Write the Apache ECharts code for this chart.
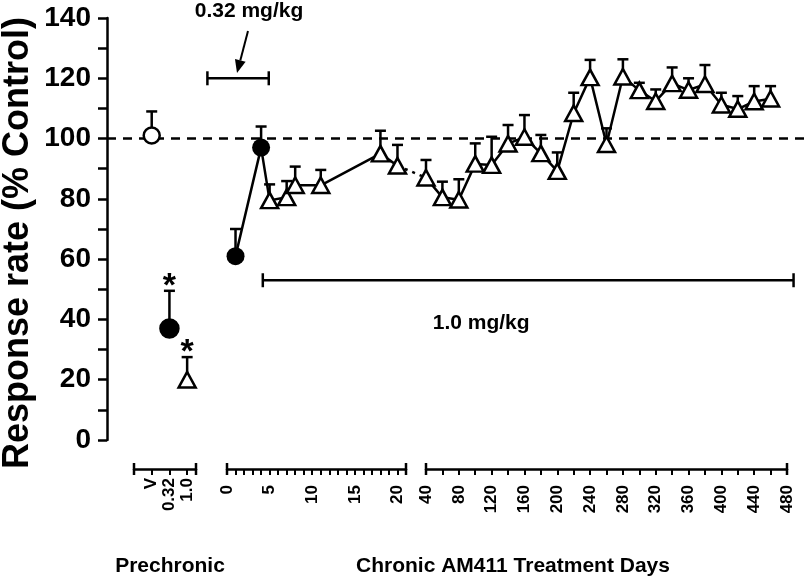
<!DOCTYPE html>
<html><head><meta charset="utf-8">
<script src="https://cdn.jsdelivr.net/npm/echarts@6/dist/echarts.min.js"></script>
<style>html,body{margin:0;padding:0;background:#fff}#c{width:809px;height:578px}</style>
</head><body><div id="c"></div>
<script>
// ---------- data ----------
const yTickValues = [0, 20, 40, 60, 80, 100, 120, 140];
const controlLevel = 100;

// Prechronic (acute) tests
const preLabels = ['V', '0.32', '1.0'];
const prePos = [1, 2, 3];
const preMean = [101, 37, 20];
const preErr = [8, 12.5, 7.5];
const preStar = [false, true, true];

// Chronic days 0-21: 0.32 mg/kg (filled circles)
const lowDays = [1, 4];
const lowMean = [61, 97];
const lowErr = [9, 7];

// Chronic days 0-21: 1.0 mg/kg (triangles)
const earlyDays = [5, 7, 8, 11, 18, 20];
const earlyMean = [79.5, 80.5, 84.5, 84.5, 95, 91];
const earlyErr = [5.3, 5.4, 6.2, 5.1, 7.6, 6.9];

// Chronic days 40-480: 1.0 mg/kg (triangles)
const lateDays = [40, 60, 80, 100, 120, 140, 160, 180, 200, 220, 240, 260, 280, 300, 320, 340, 360, 380, 400, 420, 440, 460];
const lateMean = [87, 80.5, 79.7, 91.6, 91.2, 98.3, 100.5, 95.1, 89.2, 108.4, 120.3, 98.1, 120.5, 116, 112.4, 118.3, 116.1, 118, 111.2, 109.8, 112.3, 113.2];
const lateErr = [5.9, 5.2, 6.8, 6.8, 9.4, 6.2, 7.3, 6.1, 6.2, 6.8, 5.8, 5.3, 5.8, 2.5, 3.9, 5.3, 3.9, 6.4, 4, 4.3, 5.1, 4.2];

// Tick labels
const earlyTickLabels = [0, 5, 10, 15, 20];
const lateTickLabels = [40, 80, 120, 160, 200, 240, 280, 320, 360, 400, 440, 480];

// Dose annotations (in axis units)
const lowDose = { text: '0.32 mg/kg', from: -2.3, to: 4.9, level: 120 };
const highDose = { text: '1.0 mg/kg', fromDay: 4.2, toDay: 488, level: 53 };

// ---------- chart ----------
const chart = echarts.init(document.getElementById('c'), null, { renderer: 'canvas' });
const FONT = '"Liberation Sans", Arial, Helvetica, sans-serif';
const K = '#000';
const LW = 2.5;

const pts = (xs, ms) => xs.map((x, i) => [x, ms[i]]);
const errData = (xs, ms, es, st) => xs.map((x, i) => [x, ms[i], es[i], st && st[i] ? 1 : 0]);

function errRender(params, api) {
  const x = api.value(0), m = api.value(1), e = api.value(2);
  const p0 = api.coord([x, m]), p1 = api.coord([x, m + e]);
  const ch = [
    { type: 'line', shape: { x1: p0[0], y1: p0[1], x2: p1[0], y2: p1[1] }, style: { stroke: K, lineWidth: LW } },
    { type: 'line', shape: { x1: p1[0] - 5.5, y1: p1[1], x2: p1[0] + 5.5, y2: p1[1] }, style: { stroke: K, lineWidth: LW } }
  ];
  if (api.value(3)) {
    ch.push({ type: 'text', x: p1[0], y: p1[1] + 13, style: { text: '*', font: 'bold 34px ' + FONT, fill: K, align: 'center', verticalAlign: 'bottom' } });
  }
  return { type: 'group', children: ch };
}

function xAxisFor(grid, min, max, interval, fmt, margin) {
  return {
    gridIndex: grid, type: 'value', min, max, interval, position: 'bottom', offset: 29,
    axisLine: { show: true, onZero: false, lineStyle: { color: K, width: LW }, symbol: ['rect', 'rect'], symbolSize: [12, LW] },
    axisTick: { show: true, inside: false, length: 6, lineStyle: { color: K, width: 2 } },
    axisLabel: { show: true, rotate: 90, margin, color: K, fontSize: 17, fontWeight: 'bold', fontFamily: FONT, formatter: fmt },
    splitLine: { show: false }
  };
}
const hiddenY = g => ({ gridIndex: g, type: 'value', min: 0, max: 140, interval: 20, show: false });

const triStyle = { color: '#fff', borderColor: K, borderWidth: LW };
const TRI = [17, 15.5];

const preStyle = [
  { symbol: 'circle', size: 16, fill: '#fff' },
  { symbol: 'circle', size: 18, fill: K },
  { symbol: 'triangle', size: TRI, fill: '#fff' }
];

const series = [
  // control reference line
  { type: 'line', xAxisIndex: 0, yAxisIndex: 0, data: [[0, controlLevel], [1, controlLevel]], showSymbol: false, silent: true,
    lineStyle: { color: K, width: LW, type: [9, 7] }, z: 1 },
  // prechronic
  { type: 'custom', xAxisIndex: 1, yAxisIndex: 1, renderItem: errRender, data: errData(prePos, preMean, preErr, preStar), z: 3, clip: false },
  ...preLabels.map((lab, i) => ({
    type: 'scatter', name: lab, xAxisIndex: 1, yAxisIndex: 1, symbol: preStyle[i].symbol, symbolSize: preStyle[i].size,
    itemStyle: { color: preStyle[i].fill, borderColor: K, borderWidth: LW, opacity: 1 }, data: [[prePos[i], preMean[i]]], z: 4
  })),
  // chronic 0-21
  { type: 'line', xAxisIndex: 2, yAxisIndex: 2, data: pts(lowDays, lowMean).concat(pts(earlyDays, earlyMean)), showSymbol: false,
    lineStyle: { color: K, width: LW }, z: 2, clip: false },
  { type: 'custom', xAxisIndex: 2, yAxisIndex: 2, renderItem: errRender,
    data: errData(lowDays, lowMean, lowErr).concat(errData(earlyDays, earlyMean, earlyErr)), z: 3, clip: false },
  { type: 'scatter', xAxisIndex: 2, yAxisIndex: 2, symbol: 'circle', symbolSize: 18, itemStyle: { color: K, opacity: 1 }, data: pts(lowDays, lowMean), z: 4, clip: false },
  { type: 'scatter', xAxisIndex: 2, yAxisIndex: 2, symbol: 'triangle', symbolSize: TRI, itemStyle: Object.assign({ opacity: 1 }, triStyle), data: pts(earlyDays, earlyMean), z: 4, clip: false },
  // chronic 40-480
  { type: 'line', xAxisIndex: 3, yAxisIndex: 3, data: pts(lateDays, lateMean), showSymbol: false, lineStyle: { color: K, width: LW }, z: 2, clip: false },
  { type: 'custom', xAxisIndex: 3, yAxisIndex: 3, renderItem: errRender, data: errData(lateDays, lateMean, lateErr), z: 3, clip: false },
  { type: 'scatter', xAxisIndex: 3, yAxisIndex: 3, symbol: 'triangle', symbolSize: TRI, itemStyle: Object.assign({ opacity: 1 }, triStyle), data: pts(lateDays, lateMean), z: 4, clip: false }
];

chart.setOption({
  animation: false,
  backgroundColor: '#fff',
  grid: [
    { left: 107, top: 18, width: 698, height: 422, outerBoundsMode: 'none' },
    { left: 134, top: 18, width: 62, height: 422, outerBoundsMode: 'none' },
    { left: 227, top: 18, width: 179, height: 422, outerBoundsMode: 'none' },
    { left: 426, top: 18, width: 361, height: 422, outerBoundsMode: 'none' }
  ],
  xAxis: [
    { gridIndex: 0, type: 'value', min: 0, max: 1, show: false },
    xAxisFor(1, 0, 3.5, 1, v => { const i = prePos.indexOf(v); return i >= 0 ? preLabels[i] : ''; }, 9),
    xAxisFor(2, 0, 21, 1, v => earlyTickLabels.includes(v) ? String(v) : '', 16),
    xAxisFor(3, 40, 480, 20, v => lateTickLabels.includes(v) ? String(v) : '', 16)
  ],
  yAxis: [
    {
      gridIndex: 0, type: 'value', min: yTickValues[0], max: yTickValues[yTickValues.length - 1], interval: 20,
      axisLine: { show: true, onZero: false, lineStyle: { color: K, width: LW } },
      axisTick: { show: true, length: 9, lineStyle: { color: K, width: LW } },
      minorTick: { show: true, splitNumber: 2, length: 9, lineStyle: { color: K, width: LW } },
      axisLabel: { color: K, fontSize: 28, fontWeight: 'bold', fontFamily: FONT, margin: 16 },
      splitLine: { show: false }, minorSplitLine: { show: false }
    },
    hiddenY(1), hiddenY(2), hiddenY(3)
  ],
  series
});

// ---------- annotations ----------
const px = (g, p) => chart.convertToPixel({ gridIndex: g }, p);
function bracket(a, b) {
  return [
    { type: 'line', shape: { x1: a[0], y1: a[1], x2: b[0], y2: b[1] }, style: { stroke: K, lineWidth: LW } },
    { type: 'line', shape: { x1: a[0], y1: a[1] - 7, x2: a[0], y2: a[1] + 7 }, style: { stroke: K, lineWidth: LW } },
    { type: 'line', shape: { x1: b[0], y1: b[1] - 7, x2: b[0], y2: b[1] + 7 }, style: { stroke: K, lineWidth: LW } }
  ];
}
const la = px(2, [lowDose.from, lowDose.level]), lb = px(2, [lowDose.to, lowDose.level]);
const ha = px(2, [highDose.fromDay, highDose.level]), hb = px(3, [highDose.toDay, highDose.level]);
const c1 = px(2, [earlyDays[earlyDays.length - 1], earlyMean[earlyMean.length - 1]]);
const c2 = px(3, [lateDays[0], lateMean[0]]);

// arrow
const aStart = [248, 31], aTip = [237, 73];
const dx = aTip[0] - aStart[0], dy = aTip[1] - aStart[1], L = Math.hypot(dx, dy);
const ux = dx / L, uy = dy / L, nx = -uy, ny = ux;
const hl = 13, hw = 5.5;
const base = [aTip[0] - hl * ux, aTip[1] - hl * uy];

const txt = (text, x, y, size, rot) => ({
  type: 'text', x, y, rotation: rot || 0,
  style: { text, font: 'bold ' + size + 'px ' + FONT, fill: K, align: 'center', verticalAlign: 'middle' }
});

chart.setOption({
  graphic: [
    ...bracket(la, lb),
    ...bracket(ha, hb),
    { type: 'line', shape: { x1: c1[0], y1: c1[1], x2: c2[0], y2: c2[1] }, style: { stroke: K, lineWidth: LW, lineDash: [3, 5] } },
    { type: 'line', shape: { x1: aStart[0], y1: aStart[1], x2: base[0], y2: base[1] }, style: { stroke: K, lineWidth: 2 } },
    { type: 'polygon', shape: { points: [aTip, [base[0] + hw * nx, base[1] + hw * ny], [base[0] - hw * nx, base[1] - hw * ny]] }, style: { fill: K } },
    txt(lowDose.text, 249, 11, 21),
    txt(highDose.text, (ha[0] + hb[0]) / 2 - 47, 323, 21),
    txt('Response rate (% Control)', 18, 243, 36, Math.PI / 2),
    txt('Prechronic', 170, 566, 21),
    txt('Chronic AM411 Treatment Days', 513, 566, 21)
  ]
});
</script>
</body></html>
